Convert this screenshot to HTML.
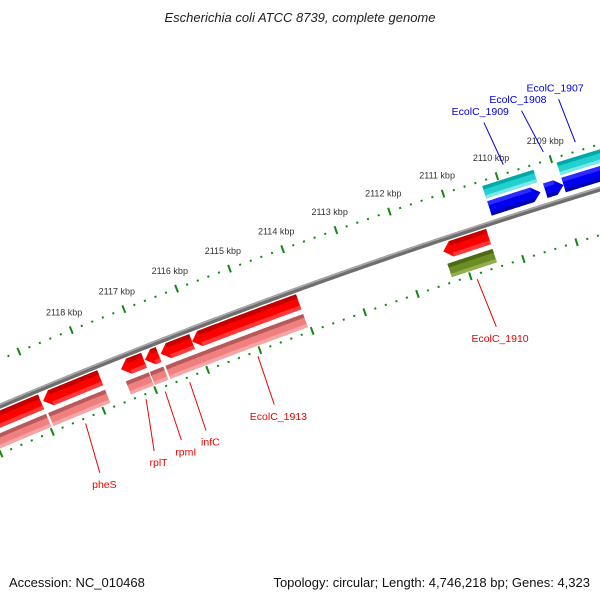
<!DOCTYPE html>
<html><head><meta charset="utf-8"><style>
html,body{margin:0;padding:0;background:#fff;}
svg{display:block;font-family:"Liberation Sans","DejaVu Sans",sans-serif;}
</style></head><body>
<svg id="map" width="600" height="600" viewBox="0 0 600 600">
<rect width="600" height="600" fill="#fff"/>
<text x="300" y="22" text-anchor="middle" font-size="13" font-style="italic" fill="#222">Escherichia coli ATCC 8739, complete genome</text>
<text x="9" y="587" font-size="13" fill="#111">Accession: NC_010468</text>
<text x="590" y="587" text-anchor="end" font-size="13" fill="#111">Topology: circular; Length: 4,746,218 bp; Genes: 4,323</text>
<g id="layer"></g>
</svg>
<script>
// feature data (kbp)
const featNames = ["pheS-left","pheS","rplT","rpmI","infC","EcolC_1913","EcolC_1910","EcolC_1909","EcolC_1908","EcolC_1907"];
const featStart = [2121.5,2118.94,2117.44,2116.98,2116.68,2116.08,2111.32,2110.30,2109.26,2108.92];
const featEnd   = [2118.98,2117.84,2117.00,2116.72,2116.08,2114.05,2110.47,2109.35,2108.92,2106.5];
const featStrand= [-1,-1,-1,-1,-1,-1,-1,1,1,1];
const featGene  = ["pink","pink","pink","pink","pink","pink","olive","cyan","none","cyan"];
const labelText = ["","pheS","rplT","rpmI","infC","EcolC_1913","EcolC_1910","EcolC_1909","EcolC_1908","EcolC_1907"];
const labelPos  = [0,2118.49,2117.43,2116.90,2116.42,2115.10,2110.84,2109.93,2109.24,2108.56];
const featMid   = [0,2118.39,2117.22,2116.85,2116.38,2115.07,2110.90,2109.83,2109.09,2108.50];
const tickLabels= [2109,2110,2111,2112,2113,2114,2115,2116,2117,2118];

const NS="http://www.w3.org/2000/svg";
const layer=document.getElementById('layer');
const CX=2340, CY=5937.5, A0=-107.74, K=0.536;
function pt(r,pos){const a=(A0-(pos-2110)*K)*Math.PI/180;return [CX+r*Math.cos(a),CY+r*Math.sin(a)];}
function mk(tag,attrs,name){const e=document.createElementNS(NS,tag);for(const k in attrs)e.setAttribute(k,attrs[k]);


layer.appendChild(e);return e;}
function arcPts(r,p1,p2){const out=[];const n=Math.max(4,Math.ceil(Math.abs(p2-p1)/0.05));for(let i=0;i<=n;i++){out.push(pt(r,p1+(p2-p1)*i/n));}return out;}
function band(p1,p2,r1,r2){const a=arcPts(r2,p1,p2),b=arcPts(r1,p2,p1);return a.concat(b).map(p=>p[0].toFixed(2)+','+p[1].toFixed(2)).join(' ');}
function arrow(pHigh,pLow,r1,r2,headAtHigh){
  const head=0.15, rm=(r1+r2)/2;
  let pts;
  if(headAtHigh){const b=pHigh-head;pts=arcPts(r2,pLow,b).concat([pt(rm,pHigh)],arcPts(r1,b,pLow));}
  else{const b=pLow+head;pts=arcPts(r2,pHigh,b).concat([pt(rm,pLow)],arcPts(r1,b,pHigh));}
  return pts.map(p=>p[0].toFixed(2)+','+p[1].toFixed(2)).join(' ');
}
// backbone
mk('polyline',{points:arcPts(6006,2122,2105).map(p=>p.join(',')).join(' '),fill:'none',stroke:'#6e6e6e','stroke-width':5},'backbone');
mk('polyline',{points:arcPts(6007.5,2122,2105).map(p=>p.join(',')).join(' '),fill:'none',stroke:'#a8a8a8','stroke-width':1.6},'backbone-highlight');

// ticks
[6049,5962].forEach((r,ri)=>{
  for(let p=2105;p<=2122.01;p+=0.2){
    const kb=Math.round(p*5)/5;const major=Math.abs(kb-Math.round(kb))<0.01;
    const a=pt(r-(major?4:1),kb),b=pt(r+(major?4:1),kb);
    mk('line',{x1:a[0],y1:a[1],x2:b[0],y2:b[1],stroke:'#118811','stroke-width':2},ri?'inner-tick':'outer-tick');
  }
});
tickLabels.forEach(k=>{const p=pt(6068,k);
  const t=mk('text',{x:p[0],y:p[1]+3,'text-anchor':'middle','font-size':9,fill:'#333'},'tick-label-'+k);t.textContent=k+' kbp';});

const pal={red:['#c40000','#ff0000','#ff3a3a'],pink:['#b85a5a','#f08080','#f7a4a4'],blue:['#2b2bff','#0000f0','#0000b4'],cyan:['#00a8a8','#22d0d0','#7ae8e8'],olive:['#4c6a14','#6b8e23','#93ad52']};
function drawBar(p1,p2,r1,r2,cols,isArrow,headHigh,name){
  const hi=Math.max(p1,p2),lo=Math.min(p1,p2);
  const shape=isArrow?arrow(hi,lo,r1,r2,headHigh):band(hi,lo,r1,r2);
  mk('polygon',{points:shape,fill:cols[1]},name);
  const h=isArrow?0.15:0;const bh=headHigh?hi-h:hi, bl=headHigh?lo:lo+h;
  const th=(r2-r1)*0.28;
  mk('polygon',{points:band(bh,bl,r2-th,r2),fill:cols[0]},name+'-top');
  mk('polygon',{points:band(bh,bl,r1,r1+th*0.9),fill:cols[2]},name+'-bottom');
}
featNames.forEach((n,i)=>{
  const s=featStrand[i];
  if(s<0){
    drawBar(featStart[i],featEnd[i],5986,6002,pal.red,true,true,'cds-'+n);
    drawBar(featStart[i],featEnd[i],5967,5981,pal[featGene[i]],false,false,'gene-'+n);
  }else{
    drawBar(featStart[i],featEnd[i],6013,6028,pal.blue,true,false,'cds-'+n);
    if(featGene[i]!=='none')drawBar(featStart[i],featEnd[i],6031,6044,pal.cyan,false,false,'gene-'+n);
  }
  if(labelText[i]){
    const col=s<0?'#ee0000':'#0000dd';
    const a=s<0?pt(5957,featMid[i]):pt(6058,featMid[i]);
    const b=s<0?pt(5906,labelPos[i]):pt(6104,labelPos[i]);
    mk('line',{x1:a[0],y1:a[1],x2:b[0],y2:b[1],stroke:col,'stroke-width':1},'leader-'+n);
    const c=s<0?pt(5894,labelPos[i]):pt(6116,labelPos[i]);
    const t=mk('text',{x:c[0],y:c[1]+4,'text-anchor':'middle','font-size':10.5,fill:col},'label-'+n);
    t.textContent=labelText[i];
  }
});
</script>
</body></html>
